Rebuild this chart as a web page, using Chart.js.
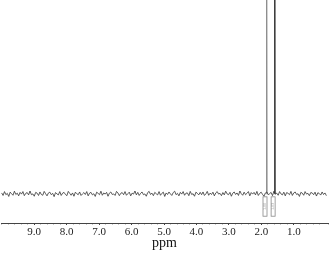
<!DOCTYPE html>
<html><head><meta charset="utf-8">
<script src="https://cdn.jsdelivr.net/npm/chart.js@4.4.1/dist/chart.umd.min.js"></script>
<style>html,body{margin:0;padding:0;background:#fff;}#wrap{width:329px;height:254px;}</style>
</head><body><div id="wrap"><canvas id="c" width="329" height="254"></canvas></div>
<script>
// chemical shift range of the baseline trace (ppm)
const ppmStart = 10.0;
const ppmEnd = 0.0;
// baseline noise (arbitrary intensity units)
const noiseValues = [
 0.5,-0.8,1.2,-0.4,0.3,-1.3,0.9,0.1,-0.7,1.4,-0.3,0.4,-1.0,0.8,-0.1,1.2,-0.9,0.3,0.7,-0.5,
 1.5,-0.4,0.0,-1.2,0.8,0.4,-0.8,1.0,-0.3,-0.7,1.3,0.1,-1.0,0.5,0.9,-0.4,0.3,-1.4,0.7,0.0,
 -0.5,1.2,-0.8,0.4,0.8,-0.3,-0.9,1.3,0.3,-0.7,0.5,-1.2,0.9,0.1,-0.4,1.0,-0.8,0.0,0.7,-0.3,
 1.2,-1.0,0.4,0.8,-0.5,0.1,-1.3,0.9,0.3,-0.4,1.4,-0.7,0.5,-0.1,0.8,-1.2,0.4,1.0,-0.3,0.0,
 -0.8,1.3,0.5,-0.9,0.3,0.7,-0.4,1.2,-0.7,0.1,0.9,-1.0,0.4,-0.1,1.5,-0.5,0.8,-0.8,0.3,1.0,
 -0.4,0.0,-1.2,0.7,1.3,-0.3,0.4,-0.9,0.8,0.1,-0.5,1.2,-0.7,0.3,0.9,-1.3,0.5,-0.3,1.0,0.0,
 -0.8,0.7,1.4,-0.4,0.3,-1.0,0.8,-0.1,1.2,-0.7,0.4,0.5,-0.9,1.3,-0.3,0.1,-1.2,0.9,0.3,-0.5,
 0.8,-0.4,1.0,-0.8,0.0,1.3,-0.7,0.4,-0.3,0.9,-1.0,0.5,1.2,-0.1,0.3,-0.9,0.7,-0.5,1.4,0.0,
 -0.4,0.8,-1.2,0.4,1.0,-0.3,0.5,-0.8,1.5,0.1,-0.7,0.9,-0.4,0.3,1.2,-1.0,0.7,-0.1,0.8,-0.5,
 1.3,-0.8,0.3,0.9,-0.3,-1.2,0.5,1.0,-0.4,0.1,0.8,-0.9,1.4,-0.1,0.4,-0.7,1.2,0.0,-0.5,0.9,
 -1.0,0.7,0.3,-0.4,1.3,-0.8,0.5,1.0,-0.3,0.1,-1.3,0.8,0.4,-0.7,1.2,-0.1,0.3,-0.9,0.7,0.5,
 -0.4,0.9,-1.1,0.6,0.2,-0.6,1.0,-0.3,0.5,-0.9
];
// peak positions (ppm) and heights (clipped at top)
const peakPositions = [1.84, 1.59];
const peakHeights = [160, 160];
const peakColors = ['#8a8a8a', '#2a2a2a'];
// integration labels under the peaks
const integralLabels = ['1.00', '1.03'];
// tick labels shown on the ppm axis
const tickLabels = ['9.0','8.0','7.0','6.0','5.0','4.0','3.0','2.0','1.0'];

const ppmStep = (ppmEnd - ppmStart) / (noiseValues.length - 1);
const baseline = noiseValues.map((v, i) => ({x: ppmStart + i * ppmStep, y: v}));
const peakSets = peakPositions.map((p, k) => ({
  data: [{x: p + 0.012, y: 0.3}, {x: p, y: peakHeights[k]}, {x: p - 0.012, y: -0.2}],
  borderColor: peakColors[k], borderWidth: 1, pointRadius: 0, tension: 0, clip: 0
}));

const integralPlugin = {
  id: 'integrals',
  afterDatasetsDraw(chart) {
    const ctx = chart.ctx, xs = chart.scales.x, ys = chart.scales.y;
    ctx.save();
    peakPositions.forEach((p, k) => {
      const xc = xs.getPixelForValue(p + 0.05);
      const top = ys.getPixelForValue(-1.5), bot = ys.getPixelForValue(-11.5);
      ctx.strokeStyle = '#888'; ctx.lineWidth = 0.8;
      ctx.strokeRect(xc - 2, top, 4, bot - top);
      ctx.translate(xc, (top + bot) / 2);
      ctx.rotate(-Math.PI / 2);
      ctx.fillStyle = '#888';
      ctx.font = '4px "Liberation Serif"';
      ctx.textAlign = 'center'; ctx.textBaseline = 'middle';
      ctx.fillText(integralLabels[k], 0, 0);
      ctx.setTransform(1, 0, 0, 1, 0, 0);
    });
    ctx.restore();
  }
};

new Chart(document.getElementById('c'), {
  type: 'line',
  data: {
    datasets: [
      {data: baseline, borderColor: '#333', borderWidth: 0.8, pointRadius: 0, tension: 0},
      ...peakSets
    ]
  },
  options: {
    responsive: false, animation: false, events: [],
    layout: {padding: {left: 0, right: 0, top: 0, bottom: 2}},
    plugins: {legend: {display: false}, tooltip: {enabled: false}},
    scales: {
      x: {
        type: 'linear', reverse: true, min: -0.05, max: 10.02,
        border: {display: true, color: '#444', width: 1},
        grid: {display: true, drawOnChartArea: false, drawTicks: true, tickLength: 2,
               tickColor: ctx => (Math.abs(ctx.tick.value - Math.round(ctx.tick.value)) < 1e-6 ? '#444' : '#ccc')},
        ticks: {
          stepSize: 0.2, autoSkip: false, maxRotation: 0, padding: 1,
          color: '#222', font: {family: '"Liberation Serif"', size: 11},
          callback: v => {
            const r = Math.round(v);
            if (Math.abs(v - r) > 1e-6) return '';
            const lbl = r.toFixed(1);
            return tickLabels.includes(lbl) ? lbl : '';
          }
        },
        title: {display: true, text: 'ppm', color: '#111', padding: {top: -5, bottom: 0},
                font: {family: '"Liberation Serif"', size: 14}}
      },
      y: {
        display: false, min: -15, max: 100
      }
    }
  },
  plugins: [integralPlugin]
});
</script></body></html>
